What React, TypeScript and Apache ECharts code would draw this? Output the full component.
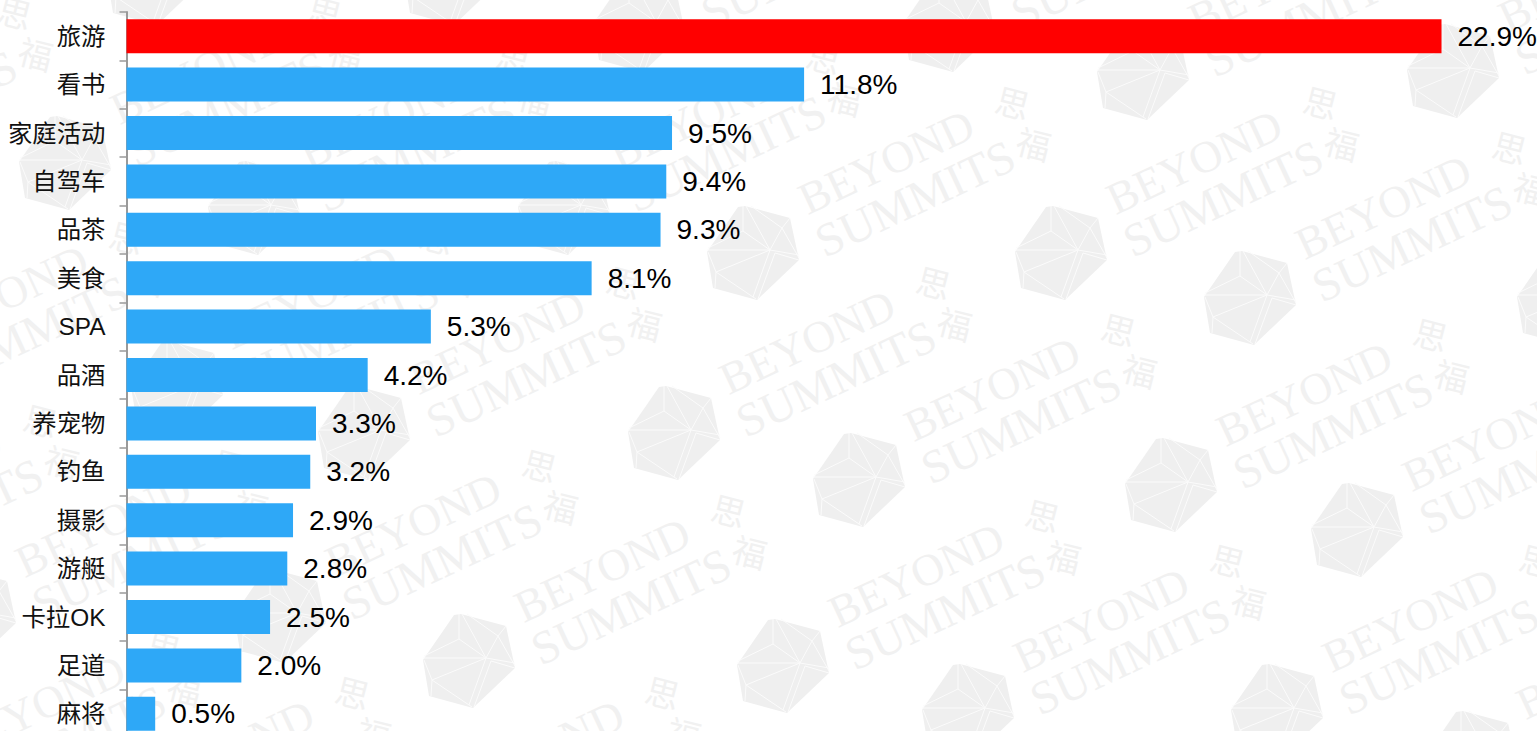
import React, { useEffect, useRef } from "react";
import * as echarts from "echarts";

const categories = ["旅游", "看书", "家庭活动", "自驾车", "品茶", "美食", "SPA", "品酒", "养宠物", "钓鱼", "摄影", "游艇", "卡拉OK", "足道", "麻将"];
const shares = [22.9, 11.8, 9.5, 9.4, 9.3, 8.1, 5.3, 4.2, 3.3, 3.2, 2.9, 2.8, 2.5, 2.0, 0.5];
const highlighted = ["旅游"];

// Background watermark stamps: where each logo's centre sits on the page.
const stamps: [number, number][] = [
  [170, -25], [467, -25], [656, 22], [966, 22], [1160, 70], [1470, 68],
  [-228, 160], [82, 160], [271, 205], [581, 205], [770, 250], [1078, 250], [1267, 295], [1580, 295],
  [-305, 340], [-116, 385], [194, 385], [381, 430], [691, 430], [876, 477], [1188, 482], [1374, 527],
  [-202, 568], [-13, 613], [297, 613], [486, 658], [800, 663], [985, 708], [1294, 708], [1488, 755],
  [-79, 795], [110, 840], [420, 840],
];

const logoOutline = [[-32, -43], [-25, -44], [20, -32], [29, 10], [-13, 50], [-57, 38], [-63, 2]];
const logoFacets = [
  [[0, 0], [-63, 0]],
  [[0, 0], [-27, -19], [-62, -2]],
  [[-27, -19], [-27, -44]],
  [[0, 0], [-24, -44]],
  [[-19, -44], [12, -22], [29, 8]],
  [[12, -22], [20, -32]],
  [[12, -22], [0, 0], [29, 5]],
  [[0, 0], [-54, 22], [-62, 2]],
  [[-54, 22], [-55, 38]],
  [[-54, 22], [-14, 49]],
  [[5, 3], [-12, 49]],
  [[0, 0], [-17, 47]],
  [[5, 3], [29, 10]],
];

const PAGE_W = 1537;
const PAGE_H = 731;
const WATERMARK = "#efefef";
const WATERMARK_TEXT = "#f1f1f1";
const TILT = (25 * Math.PI) / 180;

function onPage(x: number, y: number, length: number, height: number) {
  const endX = x + length * Math.cos(TILT);
  const endY = y - length * Math.sin(TILT);
  return endX > -height && x < PAGE_W + height && y > -height && endY < PAGE_H + height;
}

function stamp([x, y]: [number, number]) {
  const word = (text: string, dx: number, dy: number, size: number, length: number) =>
    onPage(x + dx, y + dy, length, size)
      ? [{
          type: "text",
          x: dx,
          y: dy,
          rotation: TILT,
          silent: true,
          style: {
            text,
            fill: WATERMARK_TEXT,
            font: `${size}px "Liberation Serif"`,
            textAlign: "left",
            textVerticalAlign: "bottom",
          },
        }]
      : [];
  const glyph = (text: string, dx: number, dy: number) =>
    x + dx > -20 && x + dx < PAGE_W + 20 && y + dy > -20 && y + dy < PAGE_H + 20
      ? [{
          type: "text",
          x: dx,
          y: dy,
          rotation: -0.25,
          silent: true,
          style: {
            text,
            fill: WATERMARK_TEXT,
            font: '34px "Noto Sans CJK SC"',
            textAlign: "center",
            textVerticalAlign: "middle",
          },
        }]
      : [];
  return {
    type: "group",
    x,
    y,
    silent: true,
    children: [
      {
        type: "polygon",
        shape: { points: logoOutline },
        style: { fill: WATERMARK, stroke: "none" },
      },
      ...logoFacets.map((points) => ({
        type: "polyline",
        shape: { points },
        style: { fill: "none", stroke: "#fbfbfb", lineWidth: 1 },
      })),
      ...word("BEYOND", 41, -28, 45, 190),
      ...word("SUMMITS", 58, 15, 47, 215),
      ...glyph("思", 243, -148),
      ...glyph("福", 264, -107),
    ],
  };
}

export default function App() {
  const ref = useRef<HTMLDivElement>(null);

  useEffect(() => {
    document.body.style.margin = "0";
    const chart = echarts.init(ref.current!, undefined, { renderer: "svg" });
    chart.setOption({
      animation: false,
      backgroundColor: "#ffffff",
      graphic: stamps.map(stamp),
      grid: { left: 126.5, top: 12, width: 1315, height: 726, containLabel: false, outerBoundsMode: "none" },
      xAxis: { type: "value", min: 0, max: 22.9, show: false },
      yAxis: {
        type: "category",
        inverse: true,
        data: categories,
        axisLine: { show: true, lineStyle: { color: "#9a9a9a", width: 2 } },
        axisTick: { show: true, length: 7, lineStyle: { color: "#9a9a9a", width: 1.5 } },
        axisLabel: {
          margin: 21,
          fontSize: 24.4,
          color: "#111111",
          fontFamily: '"Liberation Sans", "Noto Sans CJK SC", sans-serif',
        },
      },
      series: [
        {
          type: "bar",
          barWidth: 34,
          data: shares.map((value, i) => ({
            value,
            itemStyle: { color: highlighted.includes(categories[i]) ? "#ff0000" : "#2ea8f7" },
          })),
          label: {
            show: true,
            position: "right",
            distance: 16,
            fontSize: 28,
            color: "#000000",
            fontFamily: '"Liberation Sans", sans-serif',
            formatter: (p: { value: number }) => `${p.value.toFixed(1)}%`,
          },
        },
      ],
    });
    return () => chart.dispose();
  }, []);

  return <div ref={ref} style={{ width: PAGE_W, height: PAGE_H, overflow: "hidden" }} />;
}
